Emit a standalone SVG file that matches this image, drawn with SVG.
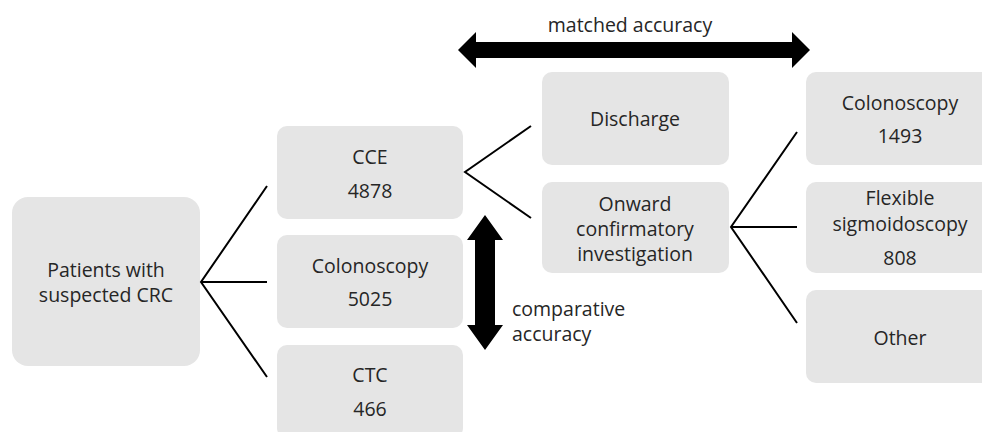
<svg xmlns="http://www.w3.org/2000/svg" width="982" height="432" viewBox="0 0 982 432">
<style>
.box{fill:#e5e5e5;}
.t{font-family:"Open Sans","Liberation Sans",sans-serif;font-size:19.5px;fill:#262626;text-anchor:middle;dominant-baseline:central;}
.l{font-family:"Open Sans","Liberation Sans",sans-serif;font-size:19.5px;fill:#262626;}
.c{stroke:#000;stroke-width:2;fill:none;}
</style>
<rect width="982" height="432" fill="#fff"/>
<g id="patients"><rect class="box" x="12" y="197" width="188" height="169" rx="16"/><text class="t" x="106" y="269">Patients with</text><text class="t" x="106" y="294">suspected CRC</text></g>
<g id="cce"><rect class="box" x="277" y="126" width="186" height="93" rx="10"/><text class="t" x="370" y="156">CCE</text><text class="t" x="370" y="190">4878</text></g>
<g id="colonoscopy1"><rect class="box" x="277" y="235" width="186" height="93" rx="10"/><text class="t" x="370" y="265">Colonoscopy</text><text class="t" x="370" y="298">5025</text></g>
<g id="ctc"><rect class="box" x="277" y="345" width="186" height="93" rx="10"/><text class="t" x="370" y="374">CTC</text><text class="t" x="370" y="408">466</text></g>
<g id="discharge"><rect class="box" x="542" y="72" width="187" height="93" rx="10"/><text class="t" x="635" y="118">Discharge</text></g>
<g id="onward"><rect class="box" x="542" y="182" width="187" height="91" rx="10"/><text class="t" x="635" y="203">Onward</text><text class="t" x="635" y="228">confirmatory</text><text class="t" x="635" y="253">investigation</text></g>
<g id="colonoscopy2"><rect class="box" x="806" y="72" width="188" height="93" rx="10"/><text class="t" x="900" y="102">Colonoscopy</text><text class="t" x="900" y="135">1493</text></g>
<g id="flexsig"><rect class="box" x="806" y="182" width="188" height="91" rx="10"/><text class="t" x="900" y="197">Flexible</text><text class="t" x="900" y="223">sigmoidoscopy</text><text class="t" x="900" y="257">808</text></g>
<g id="other"><rect class="box" x="806" y="290" width="188" height="93" rx="10"/><text class="t" x="900" y="337">Other</text></g>
<g id="connectors">
<path class="c" d="M267 186 L201 282 L267 377 M201 282 L267 282"/>
<path class="c" d="M531 126 L465 172 L531 218"/>
<path class="c" d="M797 132 L731 227 L797 323 M731 227 L797 227"/>
<path d="M458 50 L476 32 L476 42 L792 42 L792 32 L810 50 L792 68 L792 58 L476 58 L476 68 Z" fill="#000"/>
<path d="M485 215 L503 240 L495 240 L495 325 L503 325 L485 350 L467 325 L475 325 L475 240 L467 240 Z" fill="#000"/>
</g>
<text class="t" x="630" y="24">matched accuracy</text>
<text class="l" x="512" y="316">comparative</text>
<text class="l" x="512" y="341">accuracy</text>
</svg>
